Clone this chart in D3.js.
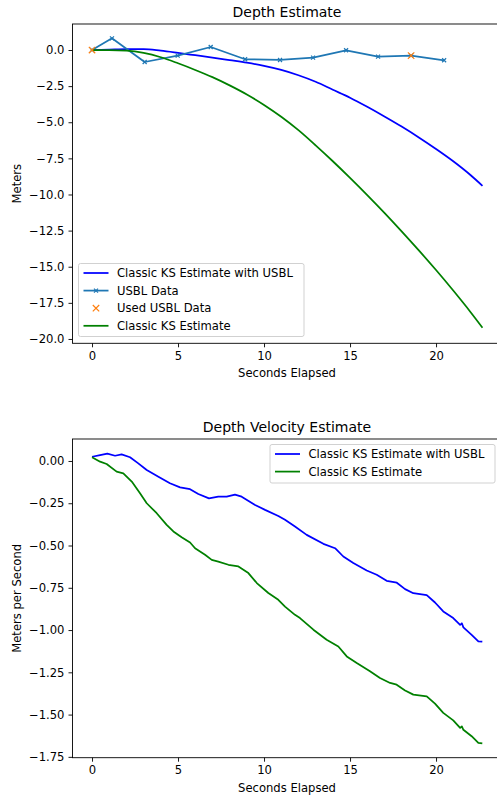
<!DOCTYPE html>
<html>
<head>
<meta charset="utf-8">
<script src="https://cdn.jsdelivr.net/npm/d3@7"></script>
<style>
  body { margin: 0; background: #fff; }
  svg { display: block; font-family: "DejaVu Sans", sans-serif; }
</style>
</head>
<body>
<svg id="svg" width="497" height="797"></svg>
<script>
// depth plot data (seconds, meters)
let usblT = [0, 1.16, 3.06, 4.98, 6.9, 8.9, 10.93, 12.85, 14.77, 16.63, 18.55, 20.47];
let usblV = [0, 0.81, -0.83, -0.39, 0.21, -0.64, -0.69, -0.53, -0.02, -0.46, -0.39, -0.71];
let usedT = [0, 18.55];
let usedV = [0, -0.39];

let estT = [0, 1, 2, 3, 4, 5, 6, 7, 8, 9, 10, 11, 12, 13, 14, 15, 16, 17, 18, 19, 20, 21, 22, 22.7];
let ksUsblDepth = [0, 0.03, 0.06, 0.06, -0.05, -0.2, -0.36, -0.52, -0.7, -0.88, -1.1, -1.38, -1.75, -2.2, -2.75, -3.3, -3.93, -4.6, -5.3, -6.05, -6.85, -7.7, -8.65, -9.4];
let ksDepth = [0, 0, -0.04, -0.2, -0.5, -0.92, -1.38, -1.88, -2.45, -3.08, -3.8, -4.62, -5.55, -6.6, -7.7, -8.85, -10.04, -11.27, -12.55, -13.87, -15.23, -16.65, -18.13, -19.22];

// depth velocity data (seconds, m/s)
let velUsblT = [0, 0.47, 0.89, 1.34, 1.72, 2.21, 2.69, 3.18, 3.86, 4.53, 5.12, 5.7, 6.18, 6.8, 7.34, 7.83, 8.31, 8.7, 9.48, 10.06, 10.83, 11.22, 11.8, 12.48, 13.45, 14.13, 14.61, 15.19, 15.97, 16.55, 17.13, 17.72, 18.2, 18.68, 19.46, 19.94, 20.42, 21.0, 21.4, 21.5, 21.59, 22.07, 22.46, 22.69];
let velUsblV = [0.025, 0.034, 0.043, 0.031, 0.039, 0.022, -0.014, -0.053, -0.093, -0.132, -0.156, -0.167, -0.195, -0.221, -0.211, -0.211, -0.199, -0.211, -0.26, -0.289, -0.325, -0.348, -0.388, -0.437, -0.49, -0.516, -0.565, -0.604, -0.648, -0.673, -0.709, -0.72, -0.758, -0.782, -0.793, -0.837, -0.89, -0.929, -0.969, -0.96, -0.984, -1.028, -1.067, -1.069];
let velKsT = [0, 0.47, 0.85, 1.43, 1.82, 2.31, 2.79, 3.18, 3.76, 4.34, 4.73, 5.21, 5.7, 5.99, 6.57, 6.96, 7.34, 7.93, 8.51, 9.09, 9.58, 10.25, 10.83, 11.22, 11.8, 12.09, 12.87, 13.64, 14.32, 14.81, 15.39, 16.16, 16.74, 17.33, 17.71, 18.2, 18.68, 19.46, 19.94, 20.42, 21.0, 21.4, 21.5, 21.59, 22.07, 22.46, 22.69];
let velKsV = [0.022, -0.004, -0.018, -0.063, -0.073, -0.122, -0.191, -0.25, -0.309, -0.378, -0.417, -0.451, -0.482, -0.516, -0.555, -0.585, -0.595, -0.614, -0.624, -0.663, -0.722, -0.781, -0.821, -0.861, -0.91, -0.929, -0.998, -1.057, -1.097, -1.156, -1.195, -1.244, -1.284, -1.313, -1.323, -1.357, -1.382, -1.392, -1.435, -1.49, -1.534, -1.579, -1.57, -1.59, -1.628, -1.667, -1.67];

let xTicks = [0, 5, 10, 15, 20];
let depthTicks = [0, -2.5, -5, -7.5, -10, -12.5, -15, -17.5, -20];
let velTicks = [0, -0.25, -0.5, -0.75, -1, -1.25, -1.5, -1.75];

const zip = (t, v) => t.map((d, i) => ({ t: d, v: v[i] }));

let svg = d3.select("#svg");
let fontSize = 11.6;
let lineWidth = 1.75;

const drawPanel = function(opts) {
  let x = d3.scaleLinear().domain([-1.135, 23.835]).range([72.5, 502]);
  let y = d3.scaleLinear().domain(opts.ydomain).range([opts.bottom, opts.top]);
  let g = svg.append("g");

  opts.series.forEach((s) => {
    if (s.line) {
      let line = d3.line().x(d => x(d.t)).y(d => y(d.v))
        .curve(s.smooth ? d3.curveMonotoneX : d3.curveLinear);
      g.append("path")
        .datum(s.data)
        .attr("fill", "none")
        .attr("stroke", s.color)
        .attr("stroke-width", lineWidth)
        .attr("stroke-linejoin", "round")
        .attr("d", line);
    }
    if (s.marker) {
      s.data.forEach((d) => {
        drawX(g, x(d.t), y(d.v), s.marker, s.color);
      });
    }
  });

  // frame
  g.append("rect")
    .attr("x", 72.5).attr("y", opts.top)
    .attr("width", 502 - 72.5).attr("height", opts.bottom - opts.top)
    .attr("fill", "none").attr("stroke", "#000").attr("stroke-width", 0.9);

  let xAxis = g.append("g")
    .attr("transform", "translate(0," + opts.bottom + ")")
    .call(d3.axisBottom(x).tickValues(xTicks).tickSize(4).tickPadding(4).tickFormat(d3.format("d")));
  let yAxis = g.append("g")
    .attr("transform", "translate(72.5,0)")
    .call(d3.axisLeft(y).tickValues(opts.yticks).tickSize(4).tickPadding(4).tickFormat(d3.format(opts.fmt)));
  [xAxis, yAxis].forEach((a) => {
    a.select(".domain").remove();
    a.selectAll("line").attr("stroke", "#000").attr("stroke-width", 0.9);
    a.selectAll("text").attr("font-size", fontSize).attr("fill", "#000").attr("font-family", "DejaVu Sans");
  });

  g.append("text")
    .attr("x", 287).attr("y", opts.top - 7)
    .attr("text-anchor", "middle").attr("font-size", 14)
    .text(opts.title);
  g.append("text")
    .attr("x", 287).attr("y", opts.bottom + 34)
    .attr("text-anchor", "middle").attr("font-size", fontSize)
    .text("Seconds Elapsed");
  g.append("text")
    .attr("transform", "translate(20.5," + ((opts.top + opts.bottom) / 2) + ") rotate(-90)")
    .attr("text-anchor", "middle").attr("font-size", fontSize)
    .text(opts.ylabel);

  // legend
  let lg = opts.legend;
  g.append("rect")
    .attr("x", lg.x).attr("y", lg.y)
    .attr("width", lg.w).attr("height", lg.h)
    .attr("rx", 2)
    .attr("fill", "#fff").attr("fill-opacity", 0.8)
    .attr("stroke", "#ccc").attr("stroke-width", 0.9);
  lg.items.forEach((s, i) => {
    let cy = lg.y + 9.5 + i * 17.6;
    if (s.line) {
      g.append("line")
        .attr("x1", lg.x + 5).attr("x2", lg.x + 30)
        .attr("y1", cy).attr("y2", cy)
        .attr("stroke", s.color).attr("stroke-width", lineWidth);
    }
    if (s.marker) {
      drawX(g, lg.x + 17.5, cy, s.marker, s.color);
    }
    g.append("text")
      .attr("x", lg.x + 38.5).attr("y", cy + 4.2)
      .attr("font-size", fontSize)
      .text(s.label);
  });
}

const drawX = function(g, cx, cy, r, color) {
  g.append("path")
    .attr("d", `M${cx - r},${cy - r}L${cx + r},${cy + r}M${cx - r},${cy + r}L${cx + r},${cy - r}`)
    .attr("stroke", color).attr("stroke-width", 1.2).attr("fill", "none");
}

let depthSeries = [
  { label: "Classic KS Estimate with USBL", color: "#0000ff", line: true, smooth: true, data: zip(estT, ksUsblDepth) },
  { label: "USBL Data", color: "#1f77b4", line: true, marker: 2, data: zip(usblT, usblV) },
  { label: "Used USBL Data", color: "#ff7f0e", marker: 3.2, data: zip(usedT, usedV) },
  { label: "Classic KS Estimate", color: "#008000", line: true, smooth: true, data: zip(estT, ksDepth) }
];

drawPanel({
  top: 24, bottom: 343.3,
  ydomain: [-20.3, 1.8],
  yticks: depthTicks, fmt: ".1f",
  title: "Depth Estimate", ylabel: "Meters",
  series: [depthSeries[0], depthSeries[1], depthSeries[3], depthSeries[2]],
  legend: { x: 78.5, y: 263.5, w: 225.5, h: 73, items: depthSeries }
});

let velSeries = [
  { label: "Classic KS Estimate with USBL", color: "#0000ff", line: true, data: zip(velUsblT, velUsblV) },
  { label: "Classic KS Estimate", color: "#008000", line: true, data: zip(velKsT, velKsV) }
];

drawPanel({
  top: 439, bottom: 757.7,
  ydomain: [-1.755, 0.13],
  yticks: velTicks, fmt: ".2f",
  title: "Depth Velocity Estimate", ylabel: "Meters per Second",
  series: velSeries,
  legend: { x: 270, y: 444.5, w: 225, h: 38.5, items: velSeries }
});
</script>
</body>
</html>
